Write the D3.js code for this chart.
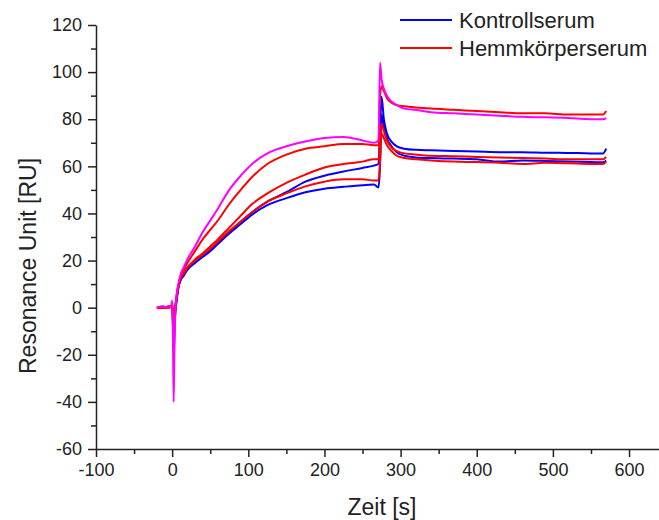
<!DOCTYPE html>
<html>
<head>
<meta charset="utf-8">
<script src="https://cdn.jsdelivr.net/npm/d3@7"></script>
<style>
  body { margin: 0; background: #fff; }
  svg { font-family: "Liberation Sans", Arial, sans-serif; }
  .axis text { font-size: 18px; fill: #222; }
  .axis path, .axis line { stroke: #222; stroke-width: 1.5; }
  .title { font-size: 23px; fill: #222; }
  .legend text { font-size: 22px; fill: #222; }
</style>
</head>
<body>
<svg id="chart" width="659" height="520"></svg>
<script>
// time points [s], shared by every curve
const times = [-20, -12, -5, -1, 0, 1, 2, 3, 4, 6, 8, 11, 15, 20, 30, 40, 50, 60, 75, 90,
  105, 125, 150, 175, 200, 225, 250, 265, 271, 273, 275, 278, 282, 288, 295, 305, 320, 340, 370,
  400, 430, 460, 490, 520, 550, 566, 570]

// Resonance units
const blueUpper = [0, 0, 0.5, 0.5, 1, -5, -15, -8, -2, 4, 8.5, 12, 14, 16.5, 19.5, 22, 24.5, 27.5, 32, 36.5,
  40.5, 45, 49, 53.5, 56, 57.8, 59.3, 60.3, 61, 75, 89.5, 80, 74, 70.5, 68.5, 67.5, 67, 66.8, 66.5,
  66.3, 66, 66, 65.8, 65.7, 65.5, 65.5, 67.5]
const blueLower = [0, 0.5, 0, 0.5, 1, -8, -20, -10, -3, 3, 8, 11.5, 13.5, 16, 19, 21.5, 24, 27, 31.5, 35.5,
  39.5, 43.5, 46.5, 49, 50.5, 51.3, 52, 52.3, 51, 60, 82, 77, 72, 68.5, 66, 64.5, 63.8, 63.5, 63.3,
  63, 62, 62.5, 62.3, 62, 61.8, 61.7, 62.5]
const redUpper = [0, 0, 0.5, 0.5, 2, -3, -8, -4, 0, 5, 9, 13, 16, 19, 24, 29, 33, 37, 44, 50,
  55.5, 61, 65, 67.5, 68.5, 69.5, 69.5, 69, 69, 90, 94, 92, 89, 87, 86, 85.5, 85, 84.5, 84,
  83.5, 83, 82.5, 82.5, 82, 82, 82, 83.5]
const redMiddle = [0, 0, 0, 0.5, 1.5, -2, -6, -3, 0, 5, 9, 12.5, 14.5, 17, 20.5, 23, 26, 29, 34, 39,
  44, 48.5, 53, 56.5, 59.5, 61, 62, 63, 63, 72, 78, 75, 71, 68, 66.5, 65.5, 65, 64.5, 64.3,
  64, 63.8, 63.5, 63.3, 63, 63, 63, 64]
const redLower = [0, 0, 0, 0.5, 1, -2, -5, -2, 0, 5, 9, 12.5, 14.5, 17, 20, 22.5, 25, 28, 32.5, 36.5,
  40.5, 45, 48.5, 51.5, 53.5, 54.5, 54.5, 54, 54, 62, 74, 72, 69, 66.5, 64.5, 63.5, 63, 62.5, 62,
  61.8, 61.5, 61, 61.5, 61.3, 61, 61, 62]
const magenta = [0, 0.5, 0, 1, 3, -10, -40, -18, -3, 6, 10, 14, 17, 20.5, 26, 32, 37, 42, 50, 56,
  61, 65.5, 68.5, 70.5, 72, 72.5, 71, 70, 71, 104, 97, 93, 90, 87.5, 86, 84.5, 84, 83, 82.5,
  82, 81.5, 81, 80.8, 80.5, 80, 80, 80.5]

const legendLabels = ["Kontrollserum", "Hemmkörperserum"]
const legendColors = ["#0000ff", "#ff0000"]

const xTicks = [-100, 0, 100, 200, 300, 400, 500, 600]
const yTicks = [-60, -40, -20, 0, 20, 40, 60, 80, 100, 120]

const series = [
  { values: blueUpper, color: "#0000ff" },
  { values: blueLower, color: "#0000ff" },
  { values: redMiddle, color: "#ff0000" },
  { values: redLower, color: "#ff0000" },
  { values: redUpper, color: "#ff0000" },
  { values: magenta, color: "#ff00ff" },
]

const svg = d3.select("#chart")

const x = d3.scaleLinear().domain([-100, 640]).range([96, 659.5])
const y = d3.scaleLinear().domain([-60, 120]).range([449, 25])

// minor ticks first, then the labelled axes on top
svg.append("g")
  .attr("class", "axis")
  .attr("transform", "translate(0,449)")
  .call(d3.axisBottom(x).tickValues(d3.range(-50, 640, 100)).tickSize(5).tickSizeOuter(0).tickFormat(""))
  .select(".domain").remove()

svg.append("g")
  .attr("class", "axis")
  .attr("transform", "translate(96,0)")
  .call(d3.axisLeft(y).tickValues(d3.range(-50, 120, 20)).tickSize(5).tickSizeOuter(0).tickFormat(""))
  .select(".domain").remove()

svg.append("g")
  .attr("class", "axis")
  .attr("transform", "translate(0,449)")
  .call(d3.axisBottom(x).tickValues(xTicks).tickSize(8).tickSizeOuter(0).tickPadding(6).tickFormat(d => String(d)))

svg.append("g")
  .attr("class", "axis")
  .attr("transform", "translate(96,0)")
  .call(d3.axisLeft(y).tickValues(yTicks).tickSize(8).tickSizeOuter(0).tickPadding(6).tickFormat(d => String(d)))

// curves
const line = d3.line()
  .x((d, i) => x(times[i]))
  .y(d => y(d))
  .curve(d3.curveMonotoneX)

svg.append("g")
  .selectAll("path")
  .data(series)
  .enter()
  .append("path")
  .attr("d", d => line(d.values))
  .attr("fill", "none")
  .attr("stroke", d => d.color)
  .attr("stroke-width", 2)
  .attr("stroke-linejoin", "round")

// axis titles
svg.append("text")
  .attr("class", "title")
  .attr("x", 382)
  .attr("y", 515)
  .attr("text-anchor", "middle")
  .text("Zeit [s]")

svg.append("text")
  .attr("class", "title")
  .attr("transform", "translate(36,266) rotate(-90)")
  .attr("text-anchor", "middle")
  .text("Resonance Unit [RU]")

// legend
const legend = svg.append("g")
  .attr("class", "legend")
  .selectAll("g")
  .data(legendLabels)
  .enter()
  .append("g")
  .attr("transform", (d, i) => `translate(400,${20 + i * 28})`)

legend.append("line")
  .attr("x1", 0).attr("x2", 52)
  .attr("stroke", (d, i) => legendColors[i])
  .attr("stroke-width", 2)

legend.append("text")
  .attr("x", 59)
  .attr("y", 7.5)
  .text(d => d)
</script>
</body>
</html>
